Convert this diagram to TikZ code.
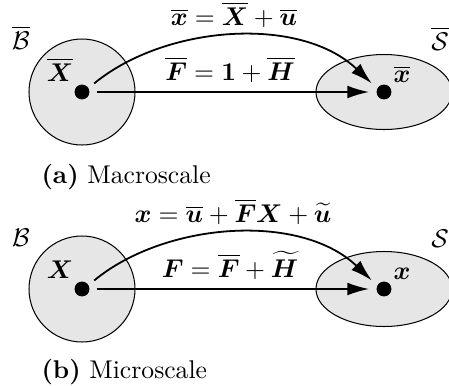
\documentclass[tikz,border=0pt]{standalone}
\usepackage{amsmath,amssymb,bm}
\usepackage{tikz}
\usetikzlibrary{arrows.meta,calc,positioning}
\usepackage{xcolor}
\definecolor{bodygray}{HTML}{E6E6E6}
\tikzset{bodyfill/.style={draw=black,fill=bodygray,line width=.4pt}, pointdot/.style={circle,fill=black,inner sep=0pt,minimum size=5.8pt,outer sep=2.9pt}, maparrow/.style={line width=.7pt,-{Latex[length=8.5pt,width=5pt]}}, mathlabel/.style={anchor=base,inner sep=0pt}, subcaption/.style={anchor=base west,inner sep=0pt}}

\begin{document}
\begin{tikzpicture}[x=.39pt,y=-.39pt]
\useasboundingbox (0,0) rectangle (449,386);
% macroscale
\begin{scope}
\draw[bodyfill] (82,92) circle (53);
\draw[bodyfill] (384,92) ellipse [x radius=68,y radius=37.5];
\node[pointdot] (Xa) at (82,92) {};
\node[pointdot] (xa) at (384,92) {};
\node[mathlabel] (Ba) at (21,49) {$\overline{\mathcal{B}}$};
\node[mathlabel] (Sa) at (440,50) {$\overline{\mathcal{S}}$};
\node[mathlabel] (XaLab) at (60,81) {$\overline{\bm{X}}$};
\node[mathlabel] (xaLab) at (402,82) {$\overline{\bm{x}}$};
\draw[maparrow] (Xa) -- (xa);
\draw[maparrow] (Xa.35) .. controls (165,25) and (300,15) .. (xa.145);
\node[mathlabel] (mapa) at (234,25) {$\overline{\bm{x}} = \overline{\bm{X}} + \overline{\bm{u}}$};
\node[mathlabel] (grada) at (230,80) {$\overline{\bm{F}} = \mathbf{1} + \overline{\bm{H}}$};
\node[subcaption] (capa) at (41,183) {\textbf{(a)} Macroscale};
\end{scope}
% microscale
\begin{scope}[shift={(0,197)}]
\draw[bodyfill] (82,92) circle (53);
\draw[bodyfill] (384,92) ellipse [x radius=68,y radius=37.5];
\node[pointdot] (Xb) at (82,92) {};
\node[pointdot] (xb) at (384,92) {};
\node[mathlabel] (Bb) at (21,49) {$\mathcal{B}$};
\node[mathlabel] (Sb) at (440,50) {$\mathcal{S}$};
\node[mathlabel] (XbLab) at (60,81) {$\bm{X}$};
\node[mathlabel] (xbLab) at (402,82) {$\bm{x}$};
\draw[maparrow] (Xb) -- (xb);
\draw[maparrow] (Xb.35) .. controls (165,25) and (300,15) .. (xb.145);
\node[mathlabel] (mapb) at (233,25) {$\bm{x} = \overline{\bm{u}} + \overline{\bm{F}}\bm{X} + \widetilde{\bm{u}}$};
\node[mathlabel] (gradb) at (230,80) {$\bm{F} = \overline{\bm{F}} + \widetilde{\bm{H}}$};
\node[subcaption] (capb) at (41,181) {\textbf{(b)} Microscale};
\end{scope}
\end{tikzpicture}
\end{document}
